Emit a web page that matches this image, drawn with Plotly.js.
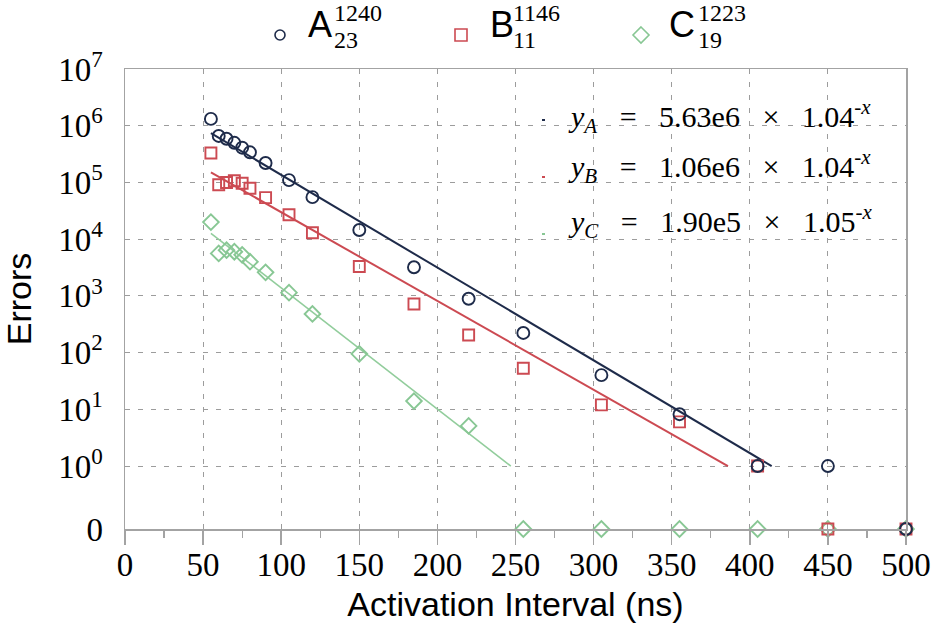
<!DOCTYPE html>
<html><head><meta charset="utf-8">
<script src="https://cdn.plot.ly/plotly-3.0.1.min.js"></script>
<style>
html,body{margin:0;padding:0;background:#fff;overflow:hidden}
#chart{width:937px;height:634px;position:relative}
#warm{position:absolute;left:0;top:0;width:937px;height:634px;pointer-events:none;z-index:5;color:transparent;font:1px monospace}
#warm span{position:absolute;left:930px;top:628px}
</style>
</head><body><div id="chart"></div><div id="warm"><span id="tick"></span></div>
<script>
// ---- data ----
const intervals = [55, 60, 65, 70, 75, 80, 90, 105, 120, 150, 185, 220, 255, 305, 355, 405, 450, 500];
const errorsA = [1.32e6, 6.6e5, 5.9e5, 5.0e5, 4.1e5, 3.4e5, 2.2e5, 1.1e5, 5.5e4, 1.45e4, 3.2e3, 890, 222, 40, 8.2, 1, 1, 0];
const errorsB = [3.3e5, 9.1e4, 1.0e5, 1.07e5, 9.7e4, 7.9e4, 5.4e4, 2.7e4, 1.3e4, 3.3e3, 720, 204, 53, 12, 6, 1, 0, 0];
const errorsC = [2.0e4, 5.6e3, 6.4e3, 6.0e3, 5.3e3, 4.0e3, 2.6e3, 1.14e3, 480, 95, 14, 5.1, 0, 0, 0, 0, 0, 0];
const fitXA = [55, 414], fitYA = [7.4e5, 1];
const fitXB = [55, 386], fitYB = [1.51e5, 1];
const fitXC = [55, 247], fitYC = [1.27e4, 1];
const seriesNames = ['A', 'B', 'C'];
const seriesSup = ['1240', '1146', '1223'];
const seriesSub = ['23', '11', '19'];
const fitText = [
  '<i>y</i><sub><i>A</i></sub>   =   5.63e6   \u00d7   1.04<sup>-<i>x</i></sup>',
  '<i>y</i><sub><i>B</i></sub>   =   1.06e6   \u00d7   1.04<sup>-<i>x</i></sup>',
  '<i>y</i><sub><i>C</i></sub>   =   1.90e5   \u00d7   1.05<sup>-<i>x</i></sup>'
];
const yTickLabels = ['0', '10<sup>0</sup>', '10<sup>1</sup>', '10<sup>2</sup>', '10<sup>3</sup>', '10<sup>4</sup>', '10<sup>5</sup>', '10<sup>6</sup>', '10<sup>7</sup>'];

// ---- styling ----
const SERIF = '"Liberation Serif", "Times New Roman", Times, serif';
const SANS = '"Liberation Sans", Arial, Helvetica, sans-serif';
const ZERO_AT = Math.pow(10, -1.11); // where the "0" row sits on the broken log axis
const toPlot = arr => arr.map(v => v === 0 ? ZERO_AT : v);
const yTickVals = [ZERO_AT, 1, 10, 100, 1e3, 1e4, 1e5, 1e6, 1e7];
const colA = '#1e2b4a', colB = '#cc4a52', colC = '#88c794';
const gridCol = '#9c9c9c', axCol = '#a3a3a3';

const traces = [
  {x: fitXC, y: fitYC, mode: 'lines', line: {color: '#92cd9c', width: 1.6}, hoverinfo: 'skip'},
  {x: fitXB, y: fitYB, mode: 'lines', line: {color: colB, width: 2}, hoverinfo: 'skip'},
  {x: fitXA, y: fitYA, mode: 'lines', line: {color: colA, width: 2}, hoverinfo: 'skip'},
  {x: intervals, y: toPlot(errorsC), mode: 'markers', cliponaxis: false,
   marker: {symbol: 'diamond-open', size: 12, color: colC, line: {width: 1.9}}},
  {x: intervals, y: toPlot(errorsB), mode: 'markers', cliponaxis: false,
   marker: {symbol: 'square-open', size: 11, color: colB, line: {width: 1.9}}},
  {x: intervals, y: toPlot(errorsA), mode: 'markers', cliponaxis: false,
   marker: {symbol: 'circle-open', size: 12, color: colA, line: {width: 1.9}}}
];

const L = 125, R = 906, T = 69, B = 529;
const px = x => (x - L) / (R - L);
const py = y => (B - y) / (B - T);

const annotations = [];
const shapes = [];
// manual legend (stacked sub/superscripts)
const legX = [280, 461, 641];
const nameX = [307, 489, 668];
const supX = [333, 512, 697];
const legCols = [colA, colB, colC];
for (let i = 0; i < 3; i++) {
  annotations.push({xref: 'paper', yref: 'paper', x: px(nameX[i]), y: py(24), xanchor: 'left', yanchor: 'middle',
    text: seriesNames[i], showarrow: false, borderpad: 0, font: {family: SANS, size: 36, color: '#000'}});
  annotations.push({xref: 'paper', yref: 'paper', x: px(supX[i]), y: py(13), xanchor: 'left', yanchor: 'middle',
    text: seriesSup[i], showarrow: false, borderpad: 0, font: {family: SERIF, size: 24, color: '#000'}});
  annotations.push({xref: 'paper', yref: 'paper', x: px(supX[i]), y: py(40), xanchor: 'left', yanchor: 'middle',
    text: seriesSub[i], showarrow: false, borderpad: 0, font: {family: SERIF, size: 24, color: '#000'}});
}
shapes.push({type: 'circle', xref: 'paper', yref: 'paper', xsizemode: 'pixel', ysizemode: 'pixel',
  xanchor: px(legX[0]), yanchor: py(35), x0: -5, x1: 5, y0: -5, y1: 5, line: {color: colA, width: 1.6}});
shapes.push({type: 'rect', xref: 'paper', yref: 'paper', xsizemode: 'pixel', ysizemode: 'pixel',
  xanchor: px(legX[1]), yanchor: py(35), x0: -6, x1: 6, y0: -6, y1: 6, line: {color: colB, width: 1.6}});
shapes.push({type: 'path', xref: 'paper', yref: 'paper', xsizemode: 'pixel', ysizemode: 'pixel',
  xanchor: px(legX[2]), yanchor: py(35), path: 'M0,8L8,0L0,-8L-8,0Z', line: {color: colC, width: 1.6}});

// fit equations
const eqY = [117, 166, 222];
const dotY = [120, 177, 234];
for (let i = 0; i < 3; i++) {
  annotations.push({xref: 'paper', yref: 'paper', x: px(567), y: py(eqY[i]), xanchor: 'left', yanchor: 'middle',
    text: fitText[i], showarrow: false, borderpad: 0, font: {family: SERIF, size: 30, color: '#000'}});
  shapes.push({type: 'line', xref: 'paper', yref: 'paper', x0: px(542), x1: px(545), y0: py(dotY[i]), y1: py(dotY[i]),
    line: {color: legCols[i], width: 2}});
}

const layout = {
  width: 937, height: 634,
  margin: {l: L, r: 937 - R, t: T, b: 634 - B},
  paper_bgcolor: '#fff', plot_bgcolor: '#fff',
  font: {family: SERIF, size: 33, color: '#000'},
  showlegend: false,
  xaxis: {
    range: [0, 500], tick0: 0, dtick: 50, ticks: 'outside', ticklen: 14, tickwidth: 1.5, tickcolor: axCol,
    showline: true, linecolor: axCol, linewidth: 1.5, mirror: true,
    showgrid: true, gridcolor: gridCol, gridwidth: 1, griddash: '5px,8px', zeroline: false,
    tickfont: {family: SERIF, size: 33, color: '#000'}, ticklabelstandoff: -8,
    minor: {dtick: 25, ticks: 'outside', ticklen: 7, tickwidth: 1.2, tickcolor: axCol, showgrid: false},
    title: {text: 'Activation Interval (ns)', font: {family: SANS, size: 34, color: '#000'}, standoff: 10},
    automargin: false
  },
  yaxis: {
    type: 'log', range: [-1.11, 7], tickmode: 'array', tickvals: yTickVals, ticktext: yTickLabels, ticks: '',
    showline: true, linecolor: axCol, linewidth: 1.5, mirror: true,
    showgrid: true, gridcolor: gridCol, gridwidth: 1, griddash: '5px,8px', zeroline: false,
    tickfont: {family: SERIF, size: 33, color: '#000'}, ticklabelstandoff: 14,
    title: {text: 'Errors', font: {family: SANS, size: 34, color: '#000'}, standoff: 18},
    automargin: false
  },
  annotations: annotations,
  shapes: shapes
};

// re-resolve every text's font after drawing, so that no fallback face is left on screen
function refreshFonts(gd) {
  gd.querySelectorAll('text').forEach(t => {
    const fam = t.style.fontFamily || '';
    if (fam.indexOf('Liberation Serif') >= 0) t.style.setProperty('font-family', '"Liberation Serif", serif');
    else if (fam.indexOf('Liberation Sans') >= 0) t.style.setProperty('font-family', '"Liberation Sans", sans-serif');
    void getComputedStyle(t).fontFamily;
  });
}

Plotly.newPlot('chart', traces, layout, {displayModeBar: false, staticPlot: true}).then(gd => {
  refreshFonts(gd);
  document.getElementById('tick').textContent = '\u00a0';
  setTimeout(() => refreshFonts(gd), 30);
});
</script></body></html>
